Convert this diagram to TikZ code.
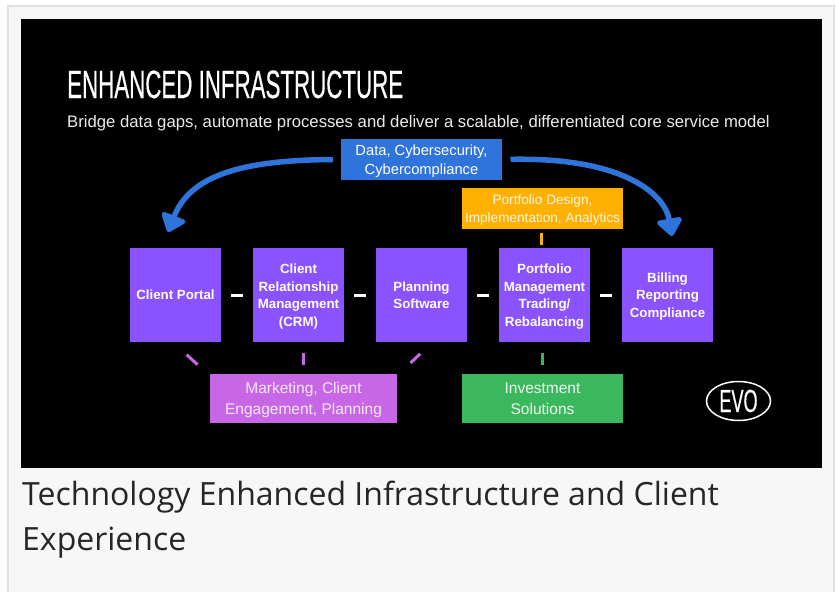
\documentclass[tikz,border=0pt]{standalone}
\usepackage{fontspec}
\usetikzlibrary{positioning,calc,arrows.meta,shapes.geometric}
\setmainfont{Liberation Sans}
\newfontfamily\titlefont[FakeStretch=0.565,FakeBold=0.4]{Liberation Sans}
\newfontfamily\capfont{Open Sans}
\definecolor{slidepurple}{HTML}{8B52FF}
\definecolor{slideblue}{HTML}{2F74DA}
\definecolor{slideyellow}{HTML}{FFB000}
\definecolor{slidepink}{HTML}{C767E5}
\definecolor{slidegreen}{HTML}{3BB85E}
\tikzset{
	purplebox/.style={fill=slidepurple,text=white,minimum width=91pt,minimum height=94pt,inner sep=0pt,outer sep=0pt,align=center,text depth=-1.2pt,font=\fontsize{13.3}{17.6}\selectfont\bfseries},
	tagbox/.style={text=white,inner sep=0pt,outer sep=0pt,align=center,text depth=0pt},
	tick/.style={line width=3pt},
	flow/.style={draw=slideblue,line width=5.5pt,-{Triangle[round,width=29pt,length=19pt]}}
}
\begin{document}
\begin{tikzpicture}[x=1pt,y=-1pt]
	\useasboundingbox (0,0) rectangle (836,592);
	\fill[white] (0,0) rectangle (836,592);
	\fill[black!3] (8,6) rectangle (834,592);
	\draw[black!12,line width=2pt] (8,592) -- (8,6) -- (834,6) -- (834,592);
	\fill[black] (21,19) rectangle (822,468);
	\node[anchor=base west,inner sep=0pt,text=white,font=\titlefont\fontsize{39.5}{39.5}\selectfont] (title) at (67,98) {ENHANCED INFRASTRUCTURE};
	\node[anchor=base west,inner sep=0pt,text=black!8,font=\fontsize{16.7}{20}\selectfont] (subtitle) at (67,127) {Bridge data gaps, automate processes and deliver a scalable, differentiated core service model};
	\node[purplebox] (portal) at (175.5,295) {Client Portal};
	\node[purplebox,right=32pt of portal] (crm) {Client\\Relationship\\Management\\(CRM)};
	\node[purplebox,right=32pt of crm] (planning) {Planning\\Software};
	\node[purplebox,right=32pt of planning] (portfolio) {Portfolio\\Management\\Trading/\\Rebalancing};
	\node[purplebox,right=32pt of portfolio] (billing) {Billing\\Reporting\\Compliance};
	\node[tagbox,text depth=-1.2pt,fill=slideblue,minimum width=161pt,minimum height=41pt,font=\fontsize{14.7}{19}\selectfont] (data) at (421.5,159.5) {Data, Cybersecurity,\\Cybercompliance};
	\node[tagbox,text depth=-1.2pt,fill=slideyellow,minimum width=161pt,minimum height=41pt,text=white!90!slideyellow,font=\fontsize{13.6}{17.5}\selectfont] (design) at (542.5,208.5) {Portfolio Design,\\Implementation, Analytics};
	\node[tagbox,fill=slidepink,minimum width=187pt,minimum height=49pt,text=white!85!slidepink,font=\fontsize{15.5}{20.5}\selectfont] (marketing) at (303.5,398.5) {Marketing, Client\\Engagement, Planning};
	\node[tagbox,fill=slidegreen,minimum width=161pt,minimum height=49pt,text=white!90!slidegreen,font=\fontsize{15.5}{20.5}\selectfont] (invest) at (542.5,398.5) {Investment\\Solutions};
	\node[draw=white,line width=1.5pt,ellipse,minimum width=64pt,minimum height=39pt,inner sep=0pt,text=white,font=\titlefont\fontsize{32}{32}\selectfont] (evo) at (738.5,401) {EVO};
	\coordinate (portaltip) at (168,232);
	\coordinate (billingtip) at (672,236);
	\draw[flow,shorten <=8pt] (data.west) .. controls (240,160) and (190,176) .. (portaltip);
	\draw[flow,shorten <=8.5pt] (data.east) .. controls (625,157) and (665,195) .. (billingtip);
	\foreach \from/\to in {portal/crm,crm/planning,planning/portfolio,portfolio/billing}
		\draw[tick,white,shorten <=10pt,shorten >=10pt] (\from) -- (\to);
	\draw[tick,slideyellow,shorten <=3.5pt,shorten >=3.5pt] ($(design.south)+(-1.5,0)$) -- ($(design.south)+(-1.5,19)$);
	\draw[tick,slidegreen,shorten <=10.5pt,shorten >=9pt] (invest.north |- portfolio.south) -- (invest.north);
	\draw[tick,slidepink,shorten <=10.5pt,shorten >=9.5pt] (marketing.north |- crm.south) -- (marketing.north);
	\draw[tick,slidepink,shorten <=19pt,shorten >=14pt] ($(portal.south)+(-3,0)$) -- ($(marketing.north west)+(-2,0)$);
	\draw[tick,slidepink,shorten <=17pt,shorten >=16pt] ($(planning.south)+(11,0)$) -- ($(marketing.north east)+(2,0)$);
	\node[anchor=base west,inner sep=0pt,align=left,text=black!85,font=\capfont\fontsize{32}{45}\selectfont] (caption) at (22,550) {Technology Enhanced Infrastructure and Client\\Experience};
\end{tikzpicture}
\end{document}
